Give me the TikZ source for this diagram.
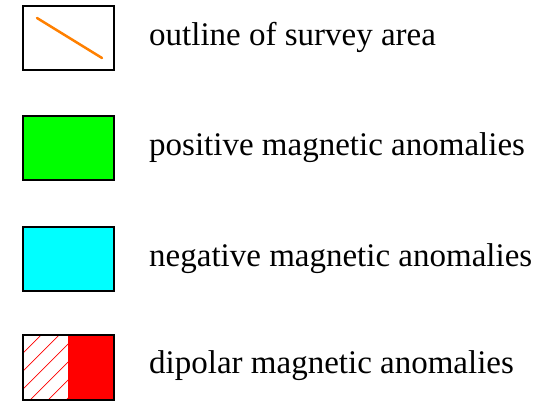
\documentclass[tikz,border=0pt]{standalone}
\usepackage{fontspec}
\setmainfont{Liberation Serif}
\definecolor{outlineorange}{RGB}{255,128,0}
\definecolor{posgreen}{RGB}{0,255,0}
\definecolor{negcyan}{RGB}{0,255,255}
\begin{document}
\begin{tikzpicture}[x=1pt,y=-1pt,
  legbox/.style={draw=black,line width=1.5pt},
  legtext/.style={anchor=base west,inner sep=0pt,font=\fontsize{33}{36}\selectfont}]
\useasboundingbox (0,0) rectangle (556,405);
% box 1
\draw[legbox,fill=white] (23,6) rectangle (114,70);
\coordinate (o1) at (37,18);
\coordinate (o2) at (102,58);
\draw[draw=outlineorange,line width=2.5pt,line cap=round] (o1) -- (o2);
\node[legtext] (t1) at (149,45) {outline of survey area};
% box 2
\draw[legbox,fill=posgreen] (23,116) rectangle (114,180);
\node[legtext] (t2) at (149,155) {positive magnetic anomalies};
% box 3
\draw[legbox,fill=negcyan] (23,227) rectangle (114,291);
\node[legtext] (t3) at (149,266) {negative magnetic anomalies};
% box 4
\fill[red] (68,335) rectangle (114,400);
\begin{scope}
\clip (23,335) rectangle (68,400);
\foreach \k in {0,18,...,126} {
  \draw[red,line width=0.7pt] (23+\k-65,400) -- (23+\k,335);
}
\end{scope}
\draw[legbox] (23,335) rectangle (114,400);
\node[legtext] (t4) at (149,373) {dipolar magnetic anomalies};
\end{tikzpicture}
\end{document}
